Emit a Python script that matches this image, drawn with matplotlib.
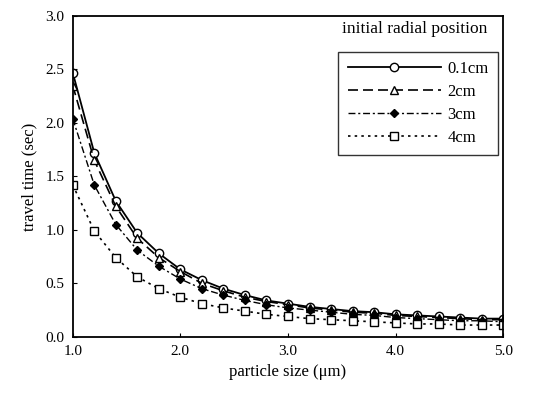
import matplotlib
matplotlib.use('Agg')
import matplotlib.pyplot as plt
import numpy as np

plt.rcParams['font.family'] = ['Liberation Serif', 'DejaVu Serif']

size = [1.0, 1.2, 1.4, 1.6, 1.8, 2.0, 2.2, 2.4, 2.6, 2.8, 3.0,
        3.2, 3.4, 3.6, 3.8, 4.0, 4.2, 4.4, 4.6, 4.8, 5.0]
t_01 = [2.47, 1.72, 1.27, 0.97, 0.78, 0.63, 0.53, 0.45, 0.39, 0.34, 0.31,
        0.28, 0.26, 0.24, 0.23, 0.21, 0.20, 0.19, 0.18, 0.17, 0.17]
t_2 = [2.35, 1.65, 1.22, 0.92, 0.74, 0.61, 0.50, 0.43, 0.37, 0.33, 0.30,
       0.27, 0.25, 0.23, 0.22, 0.20, 0.19, 0.18, 0.17, 0.16, 0.16]
t_3 = [2.04, 1.42, 1.05, 0.81, 0.66, 0.54, 0.45, 0.39, 0.34, 0.30, 0.27,
       0.25, 0.23, 0.21, 0.20, 0.18, 0.17, 0.16, 0.15, 0.15, 0.14]
t_4 = [1.42, 0.99, 0.74, 0.56, 0.45, 0.37, 0.31, 0.27, 0.24, 0.21, 0.19,
       0.17, 0.16, 0.15, 0.14, 0.13, 0.12, 0.12, 0.11, 0.11, 0.11]
labels = ['0.1cm', '2cm', '3cm', '4cm']

fig = plt.figure(figsize=(5.47, 4.0), dpi=100)
ax = fig.add_axes([0.133, 0.158, 0.787, 0.802])

ax.plot(size, t_01, color='black', linestyle='-', lw=1.3, marker='o',
        mfc='white', mec='black', ms=6, label=labels[0])
ax.plot(size, t_2, color='black', linestyle=(0, (6, 3)), lw=1.2, marker='^',
        mfc='white', mec='black', ms=6, label=labels[1])
ax.plot(size, t_3, color='black', linestyle=(0, (5, 2, 1.5, 2)), lw=1.0, marker='D',
        mfc='black', mec='black', ms=4.5, label=labels[2])
ax.plot(size, t_4, color='black', linestyle=(0, (1.5, 2.5)), lw=1.2, marker='s',
        mfc='white', mec='black', ms=6, label=labels[3])

ax.set_xlim(1.0, 5.0)
ax.set_ylim(0.0, 3.0)
ax.set_xticks([1.0, 2.0, 3.0, 4.0, 5.0])
ax.set_yticks([0.0, 0.5, 1.0, 1.5, 2.0, 2.5, 3.0])
ax.xaxis.set_major_formatter(matplotlib.ticker.FormatStrFormatter('%.1f'))
ax.yaxis.set_major_formatter(matplotlib.ticker.FormatStrFormatter('%.1f'))
ax.tick_params(direction='in', length=3, labelsize=11, pad=6)
for s in ax.spines.values():
    s.set_linewidth(1.3)

ax.set_xlabel('particle size (μm)', fontsize=12, labelpad=4)
ax.set_ylabel('travel time (sec)', fontsize=12, labelpad=6)

ax.text(0.962, 0.96, 'initial radial position', transform=ax.transAxes,
        ha='right', va='center', fontsize=12.5)
leg = ax.legend(loc='upper right', bbox_to_anchor=(0.988, 0.888), fontsize=12,
                frameon=True, fancybox=False, edgecolor='black',
                handlelength=5.6, handletextpad=0.4, borderpad=0.55,
                labelspacing=0.42, borderaxespad=0)
leg.get_frame().set_linewidth(1.0)

fig.savefig('out.png', dpi=100)
